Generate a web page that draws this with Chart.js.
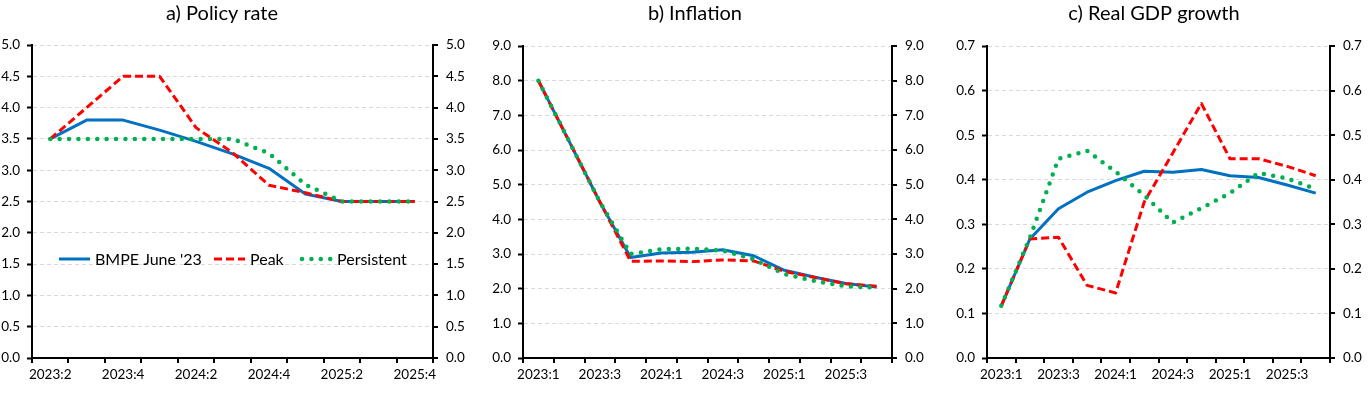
<!DOCTYPE html>
<html>
<head>
<meta charset="utf-8">
<script src="https://cdn.jsdelivr.net/npm/chart.js@4"></script>
<style>
  body { margin: 0; background: #fff; width: 1368px; height: 393px; overflow: hidden; position: relative; }
  canvas { position: absolute; top: 0; }
</style>
</head>
<body>
<canvas id="chartA" width="470" height="393" style="left:0px"></canvas>
<canvas id="chartB" width="465" height="393" style="left:470px"></canvas>
<canvas id="chartC" width="433" height="393" style="left:935px"></canvas>
<script>
// categories
const policyQuarters = ['2023:2', '2023:3', '2023:4', '2024:1', '2024:2', '2024:3', '2024:4', '2025:1', '2025:2', '2025:3', '2025:4'];
const quarters = ['2023:1', '2023:2', '2023:3', '2023:4', '2024:1', '2024:2', '2024:3', '2024:4', '2025:1', '2025:2', '2025:3', '2025:4'];

const seriesNames = ["BMPE June '23", 'Peak', 'Persistent'];

// a) policy rate
const policyBase    = [3.5, 3.8, 3.8, 3.64, 3.46, 3.26, 3.03, 2.62, 2.5, 2.5, 2.5];
const policyPeak    = [3.5, 4.0, 4.5, 4.5, 3.68, 3.28, 2.76, 2.64, 2.5, 2.5, 2.5];
const policyPersist = [3.5, 3.5, 3.5, 3.5, 3.5, 3.5, 3.27, 2.77, 2.5, 2.5, 2.5];

// b) inflation
const inflBase    = [8.0, 6.25, 4.5, 2.9, 3.03, 3.05, 3.12, 2.95, 2.53, 2.33, 2.15, 2.05];
const inflPeak    = [8.0, 6.25, 4.5, 2.79, 2.8, 2.78, 2.83, 2.8, 2.5, 2.32, 2.14, 2.07];
const inflPersist = [8.0, 6.25, 4.5, 3.0, 3.14, 3.15, 3.1, 2.85, 2.42, 2.22, 2.07, 2.03];

// c) real GDP growth
const gdpBase    = [0.117, 0.267, 0.335, 0.372, 0.398, 0.419, 0.417, 0.423, 0.409, 0.405, 0.388, 0.37];
const gdpPeak    = [0.117, 0.267, 0.271, 0.163, 0.146, 0.35, 0.46, 0.571, 0.447, 0.447, 0.43, 0.409];
const gdpPersist = [0.117, 0.27, 0.447, 0.465, 0.418, 0.365, 0.304, 0.336, 0.37, 0.415, 0.403, 0.379];

// axis ranges
const policyTicks = {min: 0, max: 5, step: 0.5};
const inflTicks = {min: 0, max: 9, step: 1};
const gdpTicks = {min: 0, max: 0.7, step: 0.1};

const FONT = 'Lato';
const BLUE = '#0070C0', RED = '#FF0000', GREEN = '#00B050';

function makeDatasets(base, peak, persist) {
    return [
        {label: seriesNames[0], data: base, borderColor: BLUE, borderWidth: 3, order: 3},
        {label: seriesNames[1], data: peak, borderColor: RED, borderWidth: 3, borderDash: [8, 4], order: 2},
        {label: seriesNames[2], data: persist, borderColor: GREEN, borderWidth: 4.5, borderDash: [0, 9.4],
         borderCapStyle: 'round', order: 1}
    ];
}

// legend drawn inside the plot area of panel a
const insideLegend = {
    id: 'insideLegend',
    afterDatasetsDraw(chart, args, opts) {
        if (!opts.show) return;
        const ctx = chart.ctx;
        const y = 259;
        const xs = [59, 214, 301];
        chart.data.datasets.forEach((ds, i) => {
            ctx.save();
            ctx.strokeStyle = ds.borderColor;
            ctx.lineWidth = ds.borderWidth;
            ctx.setLineDash(ds.borderDash || []);
            ctx.lineCap = ds.borderCapStyle || 'butt';
            ctx.beginPath();
            ctx.moveTo(xs[i] + (ds.borderCapStyle ? 1 : 0), y);
            ctx.lineTo(xs[i] + 31, y);
            ctx.stroke();
            ctx.setLineDash([]);
            ctx.fillStyle = '#000';
            ctx.font = '16px ' + FONT;
            ctx.textBaseline = 'middle';
            ctx.fillText(ds.label, xs[i] + 36, y + 1);
            ctx.restore();
        });
    }
};

// lay: pl = layout padding left (moves the title centre), lw/rw = widths of the y axes, top = plot top
function makeChart(id, title, labels, datasets, range, lay) {
    const tickFont = {family: FONT, size: 13.5};
    return new Chart(document.getElementById(id), {
        type: 'line',
        data: {labels: labels, datasets: datasets},
        options: {
            responsive: false,
            animation: false,
            devicePixelRatio: 1,
            layout: {padding: {left: lay.pl, right: 0, top: 0, bottom: 0}},
            elements: {point: {radius: 0}, line: {tension: 0, borderJoinStyle: 'round'}},
            plugins: {
                legend: {display: false},
                tooltip: {enabled: false},
                title: {display: true, text: title, color: '#000',
                        font: {family: FONT, size: 20, weight: 'normal'},
                        padding: {top: 2, bottom: lay.top - 26}},
                insideLegend: {show: !!lay.legend}
            },
            scales: {
                x: {
                    offset: true,
                    grid: {offset: true, drawOnChartArea: false, color: '#000', lineWidth: 2, tickLength: 5},
                    border: {color: '#000', width: 2},
                    ticks: {
                        autoSkip: false, maxRotation: 0, color: '#000', font: tickFont, padding: 4,
                        callback: function (v, i) { return i % 2 === 0 ? this.getLabelForValue(v) : ''; }
                    },
                    afterFit: s => { s.height = 35; }
                },
                y: {
                    position: 'left', min: range.min, max: range.max,
                    ticks: {stepSize: range.step, color: '#000', font: tickFont, padding: 7,
                            callback: v => v.toFixed(1)},
                    grid: {color: '#d9d9d9', lineWidth: 1, tickColor: '#000', tickWidth: 2, tickLength: 5, tickBorderDash: []},
                    border: {color: '#000', width: 2, dash: [4, 3]},
                    afterFit: s => { s.width = lay.lw; }
                },
                y2: {
                    position: 'right', min: range.min, max: range.max,
                    ticks: {stepSize: range.step, color: '#000', font: tickFont, padding: 8,
                            callback: v => v.toFixed(1)},
                    grid: {drawOnChartArea: false, color: '#000', lineWidth: 2, tickLength: 5},
                    border: {color: '#000', width: 2},
                    afterFit: s => { s.width = lay.rw; }
                }
            }
        },
        plugins: [insideLegend]
    });
}

makeChart('chartA', 'a) Policy rate', policyQuarters,
    makeDatasets(policyBase, policyPeak, policyPersist), policyTicks,
    {pl: -26, lw: 58, rw: 37, top: 45, legend: true});
makeChart('chartB', 'b) Inflation', quarters,
    makeDatasets(inflBase, inflPeak, inflPersist), inflTicks,
    {pl: -15, lw: 68, rw: 43, top: 46});
makeChart('chartC', 'c) Real GDP growth', quarters,
    makeDatasets(gdpBase, gdpPeak, gdpPersist), gdpTicks,
    {pl: 5, lw: 47, rw: 38, top: 46});
</script>
</body>
</html>
